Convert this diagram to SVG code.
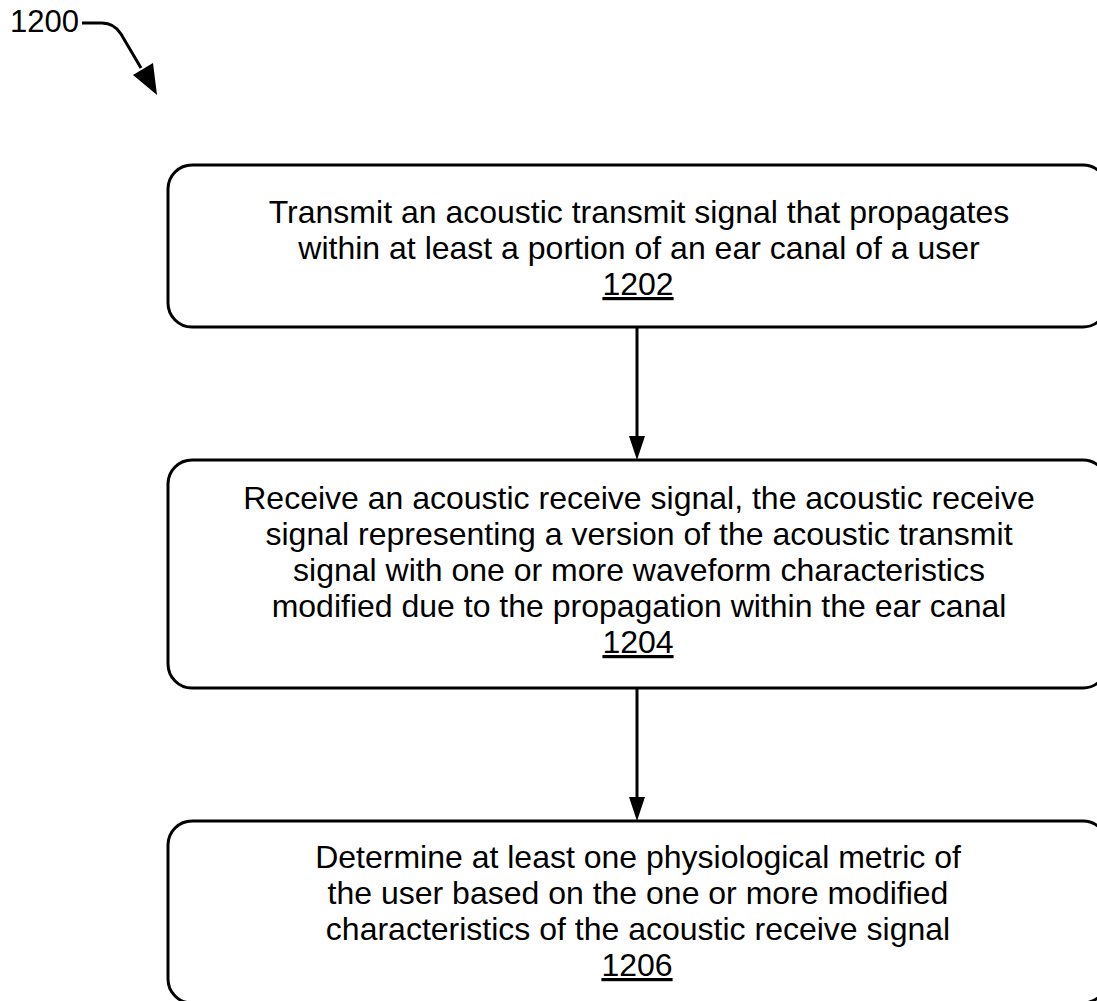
<svg xmlns="http://www.w3.org/2000/svg" width="1097" height="1001" viewBox="0 0 1097 1001">
<style>
.box{fill:#fff;stroke:#000;stroke-width:3}
.t{font-family:"Liberation Sans",Arial,sans-serif;font-size:32px;fill:#000;text-anchor:middle}
.lbl{font-family:"Liberation Sans",Arial,sans-serif;font-size:31px;fill:#000}
.u{text-decoration:underline}
.c{stroke:#000;stroke-width:3;fill:none}
</style>
<rect width="1097" height="1001" fill="#fff"/>
<g id="label-1200">
<text class="lbl" x="10" y="32">1200</text>
<path class="c" d="M82 23 L102 23 Q114 23 121 34 L141 68" stroke-width="3.5"/>
<polygon points="133,75 153,63 157,95" fill="#000"/>
</g>
<g id="connectors">
<line class="c" x1="637" y1="327" x2="637" y2="436"/>
<polygon points="629,436 645,436 637,460" fill="#000"/>
<line class="c" x1="637" y1="688" x2="637" y2="797"/>
<polygon points="629,797 645,797 637,821" fill="#000"/>
</g>
<g id="node-1202">
<rect class="box" x="168" y="165" width="939" height="162" rx="24" ry="24"/>
<text class="t" x="639" y="223">Transmit an acoustic transmit signal that propagates</text>
<text class="t" x="639" y="259">within at least a portion of an ear canal of a user</text>
<text class="t u" x="638" y="295">1202</text>
</g>
<g id="node-1204">
<rect class="box" x="168" y="460" width="939" height="228" rx="24" ry="24"/>
<text class="t" x="639" y="509">Receive an acoustic receive signal, the acoustic receive</text>
<text class="t" x="639" y="545">signal representing a version of the acoustic transmit</text>
<text class="t" x="639" y="581">signal with one or more waveform characteristics</text>
<text class="t" x="639" y="617">modified due to the propagation within the ear canal</text>
<text class="t u" x="638" y="653">1204</text>
</g>
<g id="node-1206">
<rect class="box" x="168" y="821" width="939" height="182" rx="24" ry="24"/>
<text class="t" x="638" y="868">Determine at least one physiological metric of</text>
<text class="t" x="638" y="904">the user based on the one or more modified</text>
<text class="t" x="638" y="940">characteristics of the acoustic receive signal</text>
<text class="t u" x="637" y="976">1206</text>
</g>
</svg>
